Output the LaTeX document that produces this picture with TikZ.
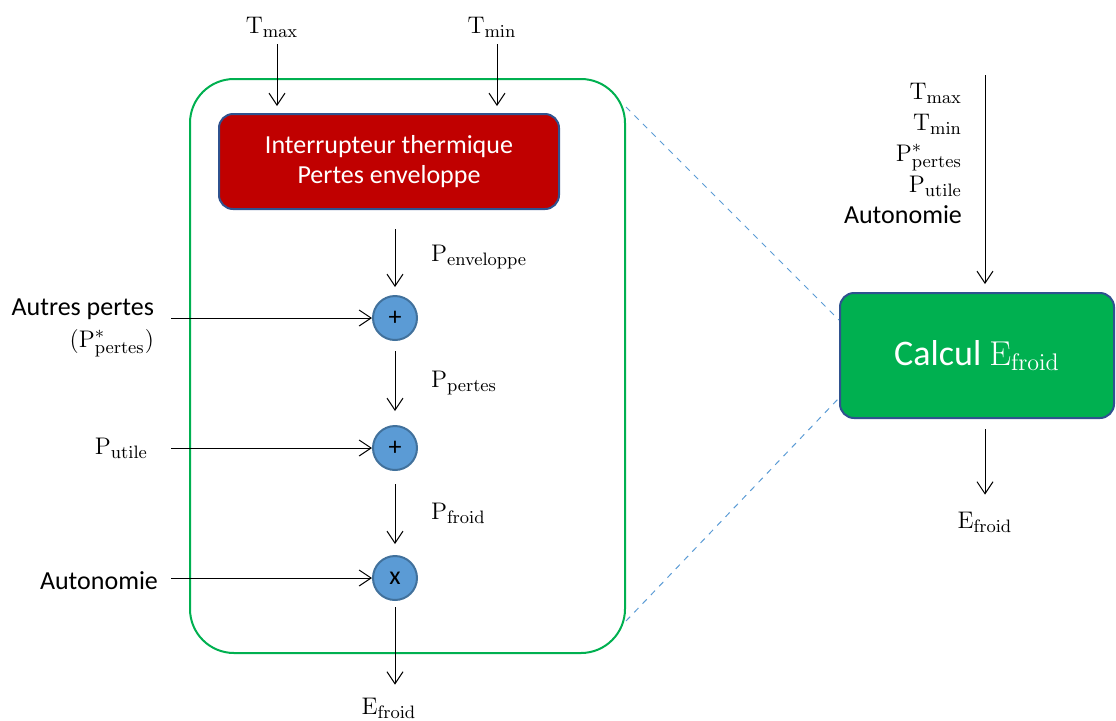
\documentclass[tikz,border=0pt]{standalone}
\usepackage[no-math]{fontspec}
\setmainfont{Carlito}
\usepackage{tikz}
\usetikzlibrary{positioning,arrows.meta}
\definecolor{framegreen}{HTML}{00B050}
\definecolor{boxred}{HTML}{C00000}
\definecolor{edgeblue}{HTML}{2F528F}
\definecolor{opblue}{HTML}{5B9BD5}
\definecolor{opedge}{HTML}{41719C}

\begin{document}
\begin{tikzpicture}[
  x=0.5pt, y=-0.5pt,
  font=\fontsize{13}{15}\selectfont, >={Straight Barb[length=6pt,width=8pt]},
  flow/.style={->,line width=0.5pt},
  block/.style={draw=edgeblue,line width=1pt,rounded corners=7pt,
                text=white,align=center},
  op/.style={circle,draw=opedge,fill=opblue,line width=1pt,
             minimum size=22pt,inner sep=0pt},
  frame/.style={draw=framegreen,line width=1pt,rounded corners=22pt},
  zoomline/.style={dashed,opblue,line width=0.5pt}]
  \useasboundingbox (0,0) rectangle (1116,720);
  % --- zoomed-in detail: green frame ---
  \node[frame,minimum width=217.5pt,minimum height=287pt] (zone) at (407.5,366) {};
  \node[block,fill=boxred,minimum width=170pt,minimum height=47.5pt] (inter) at (389,161.5)
        {Interrupteur thermique\\Pertes enveloppe};
  % --- temperature inputs ---
  \node (tmax) at (272,27) {$\mathrm{T}_{\mathrm{max}}$};
  \node (tmin) at (492,27) {$\mathrm{T}_{\mathrm{min}}$};
  \draw[flow,shorten >=3.5pt] ([xshift=2.5pt]tmax.south) -- ([xshift=2.5pt]tmax.south |- inter.north);
  \draw[flow,shorten >=3.5pt] ([xshift=2.5pt]tmin.south) -- ([xshift=2.5pt]tmin.south |- inter.north);
  % --- operators ---
  \node[op] (sum1) at (395,318) {+};
  \node[op] (sum2) at (395,448) {+};
  \node[op] (mult) at (395,578) {x};
  \draw[flow,shorten <=9.5pt,shorten >=4pt] (inter.south -| sum1.north) -- (sum1.north);
  \draw[flow,shorten <=5pt,shorten >=7pt] (sum1) -- (sum2);
  \draw[flow,shorten <=6.5pt,shorten >=5.5pt] (sum2) -- (mult);
  \node (out) at (389,708) {$\mathrm{E}_{\mathrm{froid}}$};
  \draw[flow,shorten <=3pt,shorten >=3pt] (mult.south) -- (mult.south |- out.north);
  \node[anchor=west] (penv) at (424,257) {$\mathrm{P}_{\mathrm{enveloppe}}$};
  \node[anchor=west] (ppert) at (424,383) {$\mathrm{P}_{\mathrm{pertes}}$};
  \node[anchor=west] (pfroid) at (424,513) {$\mathrm{P}_{\mathrm{froid}}$};
  % --- side inputs ---
  \coordinate (in1) at (171,318);
  \coordinate (in2) at (171,448);
  \coordinate (in3) at (171,578);
  \node[left=5pt of in1,align=right,anchor=east,yshift=-5pt] (autres)
        {Autres pertes\\[1pt]$(\mathrm{P}^{*}_{\mathrm{pertes}})$};
  \node[left=8pt of in2,anchor=east] (putile) {$\mathrm{P}_{\mathrm{utile}}$};
  \node[left=3pt of in3,anchor=east,yshift=-1.5pt] (auto) {Autonomie};
  \draw[flow] (in1) -- (sum1.west);
  \draw[flow] (in2) -- (sum2.west);
  \draw[flow] (in3) -- (mult.west);
  % --- compact block ---
  \node[block,fill=framegreen,minimum width=137pt,minimum height=62.5pt,
        font=\fontsize{18}{20}\selectfont] (calc) at (977,355.5)
        {Calcul $\mathrm{E}_{\mathrm{froid}}$};
  \draw[zoomline] ([yshift=-14.5pt]zone.north east) -- ([yshift=17.75pt]calc.west);
  \draw[zoomline] ([yshift=16.5pt]zone.south east) -- ([yshift=-21.25pt]calc.west);
  \coordinate (top) at (985,75);
  \node[anchor=north east,align=right,font=\fontsize{13}{15.5}\selectfont] (inputs) at (969,76)
        {$\mathrm{T}_{\mathrm{max}}$\\$\mathrm{T}_{\mathrm{min}}$\\$\mathrm{P}^{*}_{\mathrm{pertes}}$\\$\mathrm{P}_{\mathrm{utile}}$\\Autonomie};
  \draw[flow,shorten >=4pt] (top) -- (top |- calc.north);
  \node (res) at (985,522) {$\mathrm{E}_{\mathrm{froid}}$};
  \draw[flow,shorten <=5pt,shorten >=5pt] (calc.south -| res.north) -- (res.north);
\end{tikzpicture}
\end{document}
